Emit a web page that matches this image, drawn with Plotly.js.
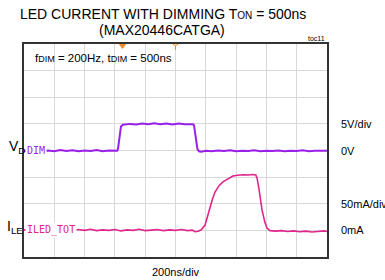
<!DOCTYPE html>
<html><head><meta charset="utf-8">
<script src="https://cdn.plot.ly/plotly-3.0.1.min.js"></script>
<style>html,body{margin:0;padding:0;background:#fff}#c{width:385px;height:280px}</style>
</head><body><div id="c"></div>
<script>
// time in ns, level in scope divisions (0 = bottom of screen)
const vdimT = [0,40,80,120,160,200,240,280,320,360,400,440,480,520,560,600,615,620,627,634,640,653,673,700,740,780,820,860,900,940,980,1020,1060,1100,1115,1122,1130,1138,1145,1155,1170,1200,1240,1280,1320,1360,1400,1440,1480,1520,1560,1600,1640,1680,1720,1760,1800,1840,1880,1920,1960,2000];
const vdimV = [3.99,3.97,4.01,3.98,4.0,3.97,4.02,3.98,4.01,3.97,4.0,3.98,4.02,3.97,4.0,3.98,3.99,4.05,4.4,4.75,4.9,4.97,4.99,5.0,4.98,5.01,4.99,5.02,4.99,5.01,4.98,5.01,4.99,5.0,4.99,4.95,4.6,4.2,4.05,3.97,3.95,3.99,3.97,4.0,3.98,4.01,3.97,3.99,3.98,4.01,3.97,3.99,3.98,4.0,3.97,3.99,3.98,4.01,3.97,3.99,3.98,3.99];
const iledT = [0,40,80,120,160,200,240,280,320,360,400,440,480,520,560,600,640,680,720,760,800,840,880,920,960,1000,1040,1080,1110,1129,1150,1170,1181,1195,1205,1217,1228,1245,1261,1285,1313,1345,1379,1410,1445,1480,1511,1530,1538,1550,1571,1590,1604,1624,1660,1700,1740,1780,1820,1860,1900,1940,1980,2000];
const iledV = [1.02,1.0,1.04,0.99,1.03,1.0,1.05,1.01,0.98,1.03,1.0,1.04,0.99,1.02,1.0,1.03,0.98,1.02,1.0,1.04,0.99,1.01,1.03,0.99,1.02,1.0,1.03,0.99,1.01,0.95,0.97,1.02,1.09,1.2,1.4,1.64,1.9,2.2,2.44,2.66,2.82,2.94,3.04,3.07,3.09,3.08,3.1,3.08,2.97,2.6,1.77,1.3,1.09,0.99,0.97,0.99,0.96,0.98,0.95,0.97,0.94,0.96,0.98,0.96];
// scope trigger markers on the top edge
const trigT = [650, 1000];
const trigV = [7.93, 7.93];
const trigSym = ['triangle-down', 'y-down-open'];
const xTicks = [0,200,400,600,800,1000,1200,1400,1600,1800,2000];
const yTicks = [0,1,2,3,4,5,6,7,8];

const purple = '#9a1fe8', pink = '#e0258c', orange = '#f08a24';
const F = 'Liberation Sans, Arial, sans-serif';
const M = 'DejaVu Sans Mono, monospace';

const traces = [
  {x: vdimT, y: vdimV, mode: 'lines', line: {color: purple, width: 2}, hoverinfo: 'skip'},
  {x: iledT, y: iledV, mode: 'lines', line: {color: pink, width: 1.6}, hoverinfo: 'skip'},
  {x: trigT, y: trigV, mode: 'markers', cliponaxis: false, marker: {symbol: trigSym, size: 5, color: orange, line: {color: orange, width: 1}}, hoverinfo: 'skip'}
];
const layout = {
  width: 385, height: 280,
  margin: {l: 24, r: 58, t: 44, b: 23},
  paper_bgcolor: '#fff', plot_bgcolor: '#fff',
  showlegend: false,
  xaxis: {range: [0, 2000], tickvals: xTicks, showticklabels: false, ticks: '', showgrid: true, gridcolor: '#d9d9d9', gridwidth: 1, zeroline: false, showline: true, mirror: true, linecolor: '#333', linewidth: 2, fixedrange: true},
  yaxis: {range: [0, 8], tickvals: yTicks, showticklabels: false, ticks: '', showgrid: true, gridcolor: '#d9d9d9', gridwidth: 1, zeroline: false, showline: true, mirror: true, linecolor: '#333', linewidth: 2, fixedrange: true},
  annotations: [
    {xref: 'paper', yref: 'paper', x: 0.46, y: 1.095, xanchor: 'center', yanchor: 'bottom', showarrow: false,
     text: 'LED CURRENT WITH DIMMING T<span style="font-size:10px">ON</span> = 500ns', font: {family: F, size: 14, color: '#000'}},
    {xref: 'paper', yref: 'paper', x: 0.455, y: 1.018, xanchor: 'center', yanchor: 'bottom', showarrow: false,
     text: '(MAX20446CATGA)', font: {family: F, size: 14, color: '#000'}},
    {xref: 'paper', yref: 'paper', x: 0.03, y: 0.97, xanchor: 'left', yanchor: 'top', showarrow: false,
     text: 'f<span style="font-size:9px">DIM</span> = 200Hz, t<span style="font-size:9px">DIM</span> = 500ns', font: {family: F, size: 11.5, color: '#000'}},
    {xref: 'paper', yref: 'paper', x: 1.0, y: 1.0, xanchor: 'right', yanchor: 'bottom', showarrow: false,
     text: 'toc11', font: {family: F, size: 7, color: '#000'}},
    // right scale labels
    {xref: 'paper', yref: 'y', x: 1.04, y: 5, xanchor: 'left', yanchor: 'middle', showarrow: false, text: '5V/div', font: {family: F, size: 11, color: '#000'}},
    {xref: 'paper', yref: 'y', x: 1.04, y: 4, xanchor: 'left', yanchor: 'middle', showarrow: false, text: '0V', font: {family: F, size: 11, color: '#000'}},
    {xref: 'paper', yref: 'y', x: 1.04, y: 2, xanchor: 'left', yanchor: 'middle', showarrow: false, text: '50mA/div', font: {family: F, size: 11, color: '#000'}},
    {xref: 'paper', yref: 'y', x: 1.04, y: 1, xanchor: 'left', yanchor: 'middle', showarrow: false, text: '0mA', font: {family: F, size: 11, color: '#000'}},
    // left channel labels
    {xref: 'paper', yref: 'y', x: -0.055, y: 4.12, xanchor: 'left', yanchor: 'middle', showarrow: false,
     text: 'V<sub>DI</sub>', font: {family: F, size: 14, color: '#000'}},
    {xref: 'paper', yref: 'y', x: 0.002, y: 4.0, xanchor: 'left', yanchor: 'middle', showarrow: false, bgcolor: '#fff',
     text: 'DIM', font: {family: M, size: 10, color: purple}},
    {xref: 'paper', yref: 'y', x: -0.062, y: 1.12, xanchor: 'left', yanchor: 'middle', showarrow: false,
     text: 'I<sub>LE</sub>', font: {family: F, size: 14, color: '#000'}},
    {xref: 'paper', yref: 'y', x: 0.002, y: 1.0, xanchor: 'left', yanchor: 'middle', showarrow: false, bgcolor: '#fff',
     text: 'ILED_TOT', font: {family: M, size: 10, color: pink}},
    {xref: 'paper', yref: 'paper', x: 0.5, y: -0.035, xanchor: 'center', yanchor: 'top', showarrow: false,
     text: '200ns/div', font: {family: F, size: 11, color: '#000'}}
  ]
};
Plotly.newPlot('c', traces, layout, {displayModeBar: false, staticPlot: true});
</script></body></html>
